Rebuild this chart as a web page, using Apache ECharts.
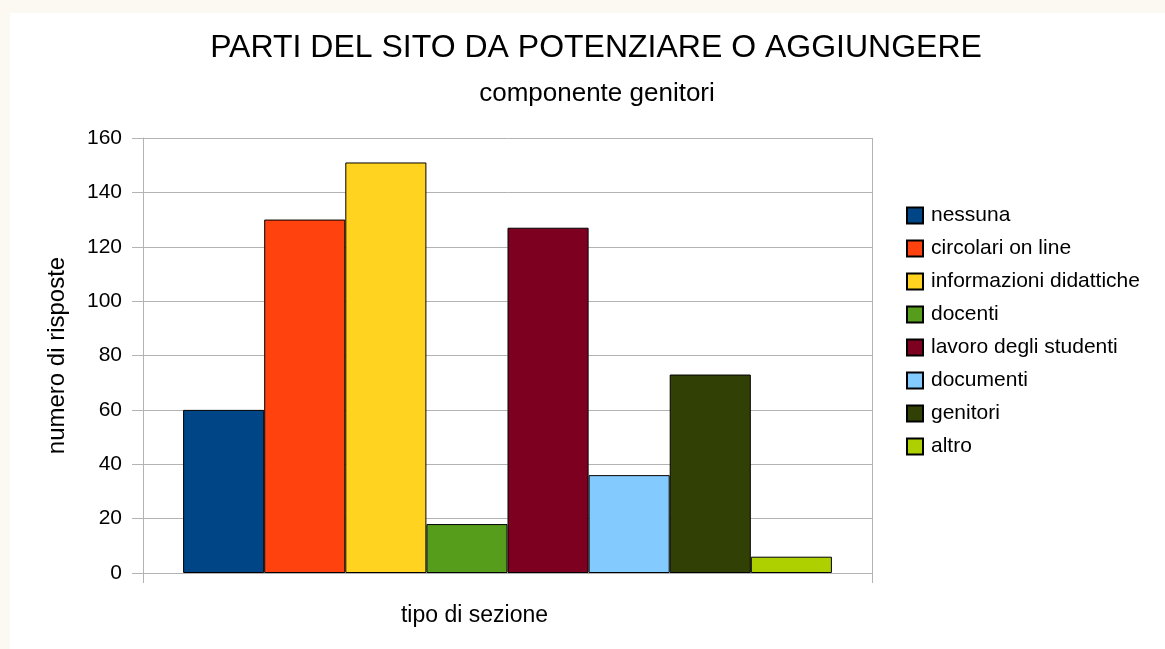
<!DOCTYPE html>
<html>
<head>
<meta charset="utf-8">
<script src="https://cdn.jsdelivr.net/npm/echarts@6/dist/echarts.min.js"></script>
<style>
  html, body { margin: 0; padding: 0; background: #fcf9f3; }
  #main {
    width: 1165px; height: 649px; box-sizing: border-box;
    border-top: 13px solid #fcf9f3; border-left: 10px solid #fcf9f3;
    background: #fff;
  }
</style>
</head>
<body>
<div id="main"></div>
<script>
// dati
var categories = ['']
var seriesNames = ['nessuna', 'circolari on line', 'informazioni didattiche', 'docenti',
  'lavoro degli studenti', 'documenti', 'genitori', 'altro']
var seriesValues = [60, 130, 151, 18, 127, 36, 73, 6]
var seriesColors = ['#004586', '#ff420e', '#ffd320', '#579d1c', '#7e0021', '#83caff', '#314004', '#aecf00']
var yTicks = { min: 0, max: 160, interval: 20 }

var font = '"Liberation Sans", Arial, sans-serif'
var chart = echarts.init(document.getElementById('main'))

var series = seriesNames.map(function (name, i) {
  return {
    name: name,
    type: 'bar',
    data: [seriesValues[i]],
    barGap: '0%',
    barCategoryGap: '11%',
    itemStyle: { color: seriesColors[i], borderColor: '#000', borderWidth: 1 },
    animation: false
  }
})

chart.setOption({
  textStyle: { fontFamily: font },
  title: [
    {
      text: 'PARTI DEL SITO DA POTENZIARE O AGGIUNGERE',
      left: 581, top: 14, textAlign: 'center',
      textStyle: { fontSize: 32, fontWeight: 'normal', color: '#000', fontFamily: font }
    },
    {
      text: 'componente genitori',
      left: 582, top: 63, textAlign: 'center',
      textStyle: { fontSize: 26, fontWeight: 'normal', color: '#000', fontFamily: font }
    }
  ],
  legend: {
    orient: 'vertical',
    left: 891, top: 187,
    itemWidth: 16, itemHeight: 16, itemGap: 12,
    icon: 'rect',
    textStyle: { fontSize: 21, color: '#000', fontFamily: font, padding: [0, 0, 0, 3] },
    data: seriesNames
  },
  grid: { left: 133, top: 125, right: 293, bottom: 76, containLabel: false },
  xAxis: {
    type: 'category',
    data: categories,
    name: 'tipo di sezione',
    nameLocation: 'middle',
    nameGap: 31,
    nameTextStyle: { fontSize: 23, color: '#000', padding: [0, 66, 0, 0] },
    axisLine: { lineStyle: { color: '#b3b3b3' } },
    axisTick: { show: true, length: 10, lineStyle: { color: '#b3b3b3' } },
    axisLabel: { show: false },
    splitLine: { show: true, lineStyle: { color: '#b3b3b3' } }
  },
  yAxis: {
    type: 'value',
    min: yTicks.min, max: yTicks.max, interval: yTicks.interval,
    name: 'numero di risposte',
    nameLocation: 'middle',
    nameGap: 74,
    nameTextStyle: { fontSize: 24, color: '#000' },
    axisLine: { show: true, lineStyle: { color: '#b3b3b3' } },
    axisTick: { show: true, length: 11, lineStyle: { color: '#b3b3b3' } },
    axisLabel: { fontSize: 21, color: '#000', margin: 21 },
    splitLine: { show: true, lineStyle: { color: '#b3b3b3' } }
  },
  series: series
})
</script>
</body>
</html>
